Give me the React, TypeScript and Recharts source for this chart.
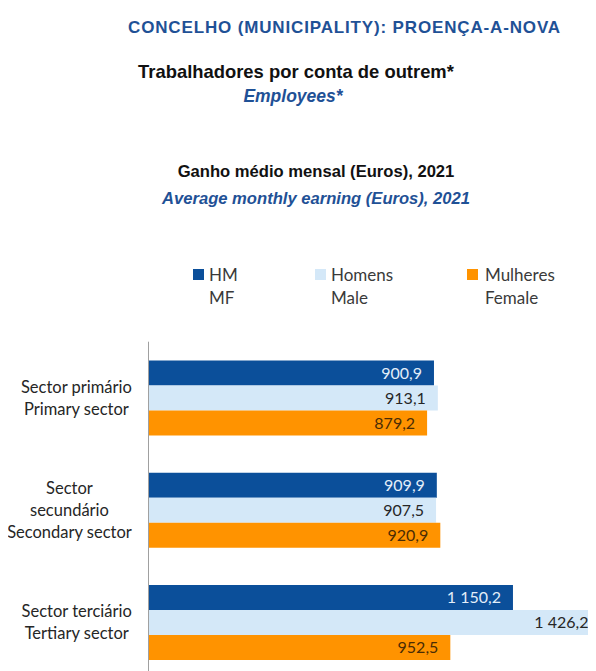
import React from 'react';
import { BarChart, Bar, XAxis, YAxis, LabelList } from 'recharts';

const categories = ['primary', 'secondary', 'tertiary'];
const categoryLabels = [
  ['Sector primário', 'Primary sector'],
  ['Sector', 'secundário', 'Secondary sector'],
  ['Sector terciário', 'Tertiary sector'],
];
const hmValues = [900.9, 909.9, 1150.2];
const homensValues = [913.1, 907.5, 1426.2];
const mulheresValues = [879.2, 920.9, 952.5];
const seriesKeys = ['hm', 'homens', 'mulheres'];
const seriesLabels = [['HM', 'MF'], ['Homens', 'Male'], ['Mulheres', 'Female']];
const gridTicks = [0, 1, 2, 3];

const seriesColors = ['#0B4F9A', '#D4E8F8', '#FF9300'];
const labelColors = ['#E3EEF9', '#262626', '#4A2C05'];

const data = categories.map((c, i) => ({
  name: c,
  hm: hmValues[i],
  homens: homensValues[i],
  mulheres: mulheresValues[i],
}));

const fmt = (v: any) => {
  const [ip, dp] = Number(v).toFixed(1).split('.');
  return ip.replace(/\B(?=(\d{3})+(?!\d))/g, '\u00a0') + ',' + dp;
};

const LABEL_FONT = 'Lato';
const LABEL_SIZE = 16;
const CAT_SIZE = 16.5;
const LEGEND_SIZE = 17;

let ctx: CanvasRenderingContext2D | null = null;
const measure = (s: string) => {
  if (!ctx) ctx = document.createElement('canvas').getContext('2d');
  if (!ctx) return s.length * 8;
  ctx.font = `${CAT_SIZE}px ${LABEL_FONT}`;
  return ctx.measureText(s).width;
};

const CategoryTick = (props: any) => {
  const { x, y, payload } = props;
  const idx = categories.indexOf(payload.value);
  const lines = categoryLabels[idx] || [];
  const maxW = Math.max(...lines.map(measure));
  const cx = x - 11.5 - maxW / 2;
  const n = lines.length;
  return (
    <text textAnchor="middle" fontFamily={LABEL_FONT} fontSize={CAT_SIZE} fill="#262626">
      {lines.map((l, i) => (
        <tspan key={i} x={cx} y={y + (i - (n - 1) / 2) * 22} dy="0.35em">
          {l}
        </tspan>
      ))}
    </text>
  );
};

const titleBase: React.CSSProperties = {
  position: 'absolute',
  width: 600,
  textAlign: 'center',
  whiteSpace: 'nowrap',
  fontFamily: '"Liberation Sans", Arial, sans-serif',
  fontWeight: 'bold',
  lineHeight: '20px',
};

const Title = ({ cx, cy, children, style }: any) => (
  <div style={{ ...titleBase, left: cx - 300, top: cy - 10, ...style }}>{children}</div>
);

const legendLefts = [185, 307, 459];
const legendTextGap = [16, 16, 18];

export default function App() {
  return (
    <div style={{ position: 'relative', width: 588, height: 663, overflow: 'hidden', background: '#fff' }}>
      <Title cx={336.5} cy={20} style={{ color: '#1F5196', fontSize: 17, letterSpacing: 0.85 }}>
        CONCELHO (MUNICIPALITY): PROENÇA-A-NOVA
      </Title>
      <Title cx={288} cy={64} style={{ color: '#111', fontSize: 18.4 }}>
        Trabalhadores por conta de outrem*
      </Title>
      <Title cx={285} cy={88} style={{ color: '#1F5196', fontSize: 17.5, fontStyle: 'italic' }}>
        Employees*
      </Title>
      <Title cx={308} cy={164} style={{ color: '#111', fontSize: 16.6 }}>
        Ganho médio mensal (Euros), 2021
      </Title>
      <Title cx={308} cy={191} style={{ color: '#1F5196', fontSize: 16.6, fontStyle: 'italic' }}>
        Average monthly earning (Euros), 2021
      </Title>

      {seriesKeys.map((k, i) => (
        <div
          key={k}
          style={{
            position: 'absolute',
            left: legendLefts[i],
            top: 254.5,
            fontFamily: LABEL_FONT,
            fontSize: LEGEND_SIZE,
            lineHeight: '23px',
            color: '#3A3A3A',
            whiteSpace: 'nowrap',
          }}
        >
          <div style={{ position: 'absolute', left: 0, top: 6, width: 11, height: 11, background: seriesColors[i] }} />
          <div style={{ marginLeft: legendTextGap[i] }}>
            {seriesLabels[i].map((l, j) => (
              <div key={j}>{l}</div>
            ))}
          </div>
        </div>
      ))}

      <div style={{ position: 'absolute', left: 0, top: 0 }}>
        <BarChart
          width={700}
          height={680}
          data={data}
          layout="vertical"
          barCategoryGap="16.7%"
          barGap={0}
          margin={{ top: 333.7, right: 52.5, bottom: 9.4, left: 0 }}
        >
          <XAxis type="number" domain={[0, 1600]} hide />
          <YAxis
            yAxisId="a"
            type="number"
            domain={[0, 3]}
            ticks={gridTicks}
            tick={false}
            tickSize={4}
            width={5}
            axisLine={{ stroke: '#A0A0A0' }}
            tickLine={{ stroke: '#A0A0A0' }}
          />
          <YAxis
            yAxisId="b"
            dataKey="name"
            type="category"
            width={135.5}
            axisLine={false}
            tickLine={false}
            tickSize={0}
            tickMargin={0}
            tick={<CategoryTick />}
          />
          {seriesKeys.map((k, i) => (
            <Bar key={k} yAxisId="b" dataKey={k} fill={seriesColors[i]} isAnimationActive={false}>
              <LabelList
                dataKey={k}
                position="insideRight"
                offset={12}
                fill={labelColors[i]}
                fontFamily={LABEL_FONT}
                fontSize={LABEL_SIZE}
                formatter={fmt}
              />
            </Bar>
          ))}
        </BarChart>
      </div>
    </div>
  );
}
